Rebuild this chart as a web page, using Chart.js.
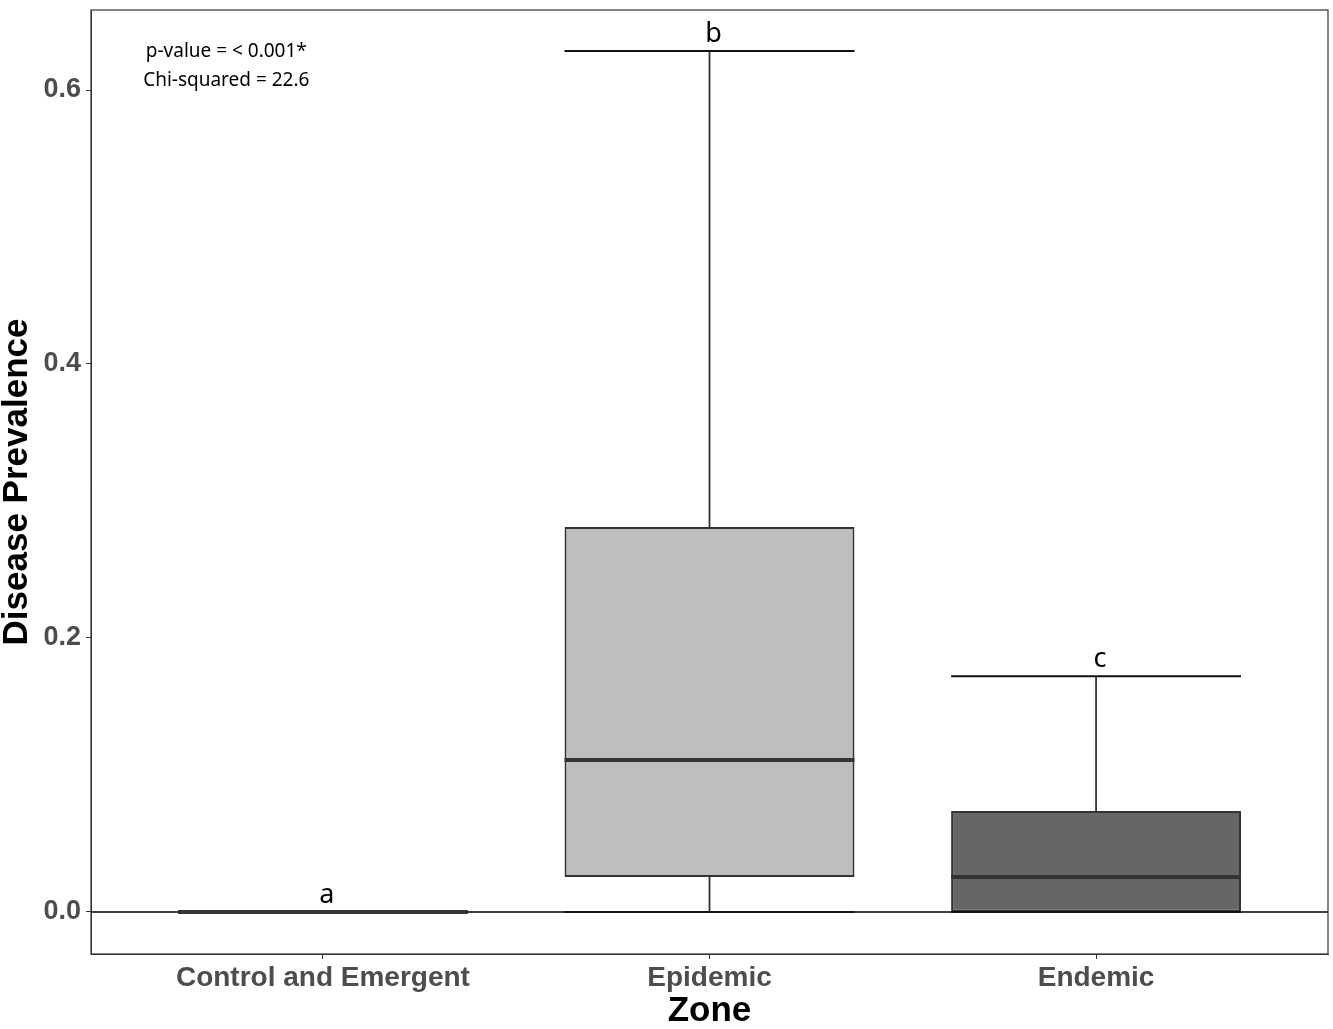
<!DOCTYPE html>
<html>
<head>
<meta charset="utf-8">
<script src="https://cdn.jsdelivr.net/npm/chart.js@4"></script>
<style>
  html, body { margin: 0; padding: 0; background: #fff; }
  #wrap { width: 1333px; height: 1029px; }
</style>
</head>
<body>
<div id="wrap"><canvas id="chart"></canvas></div>
<script>
// box plot summary per zone
const zones = ['Control and Emergent', 'Epidemic', 'Endemic'];
const whiskerLow = [0, 0, 0];
const q1 = [0, 0.0255, 0];
const median = [0, 0.111, 0.0255];
const q3 = [0, 0.281, 0.0737];
const whiskerHigh = [0, 0.6285, 0.172];
const letters = ['a', 'b', 'c'];
const yTicks = [0, 0.2, 0.4, 0.6];
const statLines = ['p-value = < 0.001*', 'Chi-squared = 22.6'];

const fills = ['#ffffff', '#bebebe', '#666666'];
const dark = '#333333';

// whiskers, caps, medians, zero line, letters and frame
const boxExtras = {
  id: 'boxExtras',
  afterDatasetsDraw(chart) {
    const {ctx, chartArea, scales: {x, y}} = chart;
    const half = (x.getPixelForValue(2) - x.getPixelForValue(1)) * 0.75 / 2;
    ctx.save();
    ctx.lineCap = 'butt';

    // horizontal reference line at 0
    ctx.strokeStyle = '#000';
    ctx.lineWidth = 1.6;
    ctx.beginPath();
    ctx.moveTo(chartArea.left, y.getPixelForValue(0));
    ctx.lineTo(chartArea.right, y.getPixelForValue(0));
    ctx.stroke();

    for (let i = 0; i < zones.length; i++) {
      const cx = x.getPixelForValue(i + 1);
      // whiskers
      ctx.strokeStyle = dark;
      ctx.lineWidth = 1.8;
      ctx.beginPath();
      ctx.moveTo(cx, y.getPixelForValue(q3[i]));
      ctx.lineTo(cx, y.getPixelForValue(whiskerHigh[i]));
      ctx.moveTo(cx, y.getPixelForValue(q1[i]));
      ctx.lineTo(cx, y.getPixelForValue(whiskerLow[i]));
      ctx.stroke();
      // caps
      ctx.strokeStyle = '#111';
      ctx.lineWidth = 2;
      ctx.beginPath();
      ctx.moveTo(cx - half, y.getPixelForValue(whiskerHigh[i]));
      ctx.lineTo(cx + half, y.getPixelForValue(whiskerHigh[i]));
      ctx.moveTo(cx - half, y.getPixelForValue(whiskerLow[i]));
      ctx.lineTo(cx + half, y.getPixelForValue(whiskerLow[i]));
      ctx.stroke();
      // median
      ctx.strokeStyle = dark;
      ctx.lineWidth = 4;
      ctx.beginPath();
      ctx.moveTo(cx - half, y.getPixelForValue(median[i]));
      ctx.lineTo(cx + half, y.getPixelForValue(median[i]));
      ctx.stroke();
      // significance letter
      ctx.fillStyle = '#000';
      ctx.font = '27px "Noto Sans"';
      ctx.textAlign = 'center';
      ctx.textBaseline = 'alphabetic';
      ctx.fillText(letters[i], cx + 4, y.getPixelForValue(whiskerHigh[i]) - 9);
    }

    // stats annotation
    ctx.font = '19px "Noto Sans"';
    ctx.fillStyle = '#000';
    ctx.textBaseline = 'middle';
    const ax = x.getPixelForValue(0.75);
    ctx.fillText(statLines[0], ax, y.getPixelForValue(0.628));
    ctx.fillText(statLines[1], ax, y.getPixelForValue(0.607));

    // panel frame
    ctx.strokeStyle = dark;
    ctx.lineWidth = 1.2;
    ctx.strokeRect(chartArea.left, chartArea.top, chartArea.right - chartArea.left, chartArea.bottom - chartArea.top);
    ctx.restore();
  }
};

new Chart(document.getElementById('chart').getContext('2d'), {
  type: 'bar',
  data: {
    datasets: [{
      data: zones.map((z, i) => ({x: i + 1, y: [q1[i], q3[i]]})),
      backgroundColor: fills,
      borderColor: dark,
      borderWidth: 2,
      borderSkipped: false,
      barPercentage: 0.75,
      categoryPercentage: 1,
    }],
  },
  options: {
    responsive: true,
    maintainAspectRatio: false,
    animation: false,
    layout: { padding: { top: 10, right: 5, left: 0, bottom: 0 } },
    plugins: { legend: { display: false }, tooltip: { enabled: false } },
    scales: {
      x: {
        type: 'linear',
        min: 0.4,
        max: 3.6,
        offset: false,
        afterFit: (scale) => { scale.height = 75; scale.paddingLeft = 0; scale.paddingRight = 0; },
        afterBuildTicks: (scale) => { scale.ticks = [1, 2, 3].map(v => ({value: v})); },
        grid: { display: true, drawOnChartArea: false, drawTicks: true, tickLength: 5, color: dark, offset: false },
        border: { display: true, color: dark },
        ticks: {
          autoSkip: false,
          maxRotation: 0,
          padding: 2,
          color: '#4d4d4d',
          font: { family: '"Liberation Sans", Arial, sans-serif', size: 28, weight: 'bold' },
          callback: (v) => zones[v - 1],
        },
        title: {
          display: true,
          text: 'Zone',
          color: '#000',
          padding: { top: 0, bottom: 0 },
          font: { family: '"Liberation Sans", Arial, sans-serif', size: 35, weight: 'bold', lineHeight: 1 },
        },
      },
      y: {
        min: -0.0307,
        max: 0.6584,
        afterFit: (scale) => { scale.width = 91; scale.paddingTop = 0; scale.paddingBottom = 0; },
        afterBuildTicks: (scale) => { scale.ticks = yTicks.map(v => ({value: v})); },
        grid: { display: true, drawOnChartArea: false, drawTicks: true, tickLength: 5, color: dark },
        border: { display: true, color: dark },
        ticks: {
          padding: 5,
          color: '#4d4d4d',
          font: { family: '"Liberation Sans", Arial, sans-serif', size: 27, weight: 'bold' },
          callback: (v) => v.toFixed(1),
        },
        title: {
          display: true,
          text: 'Disease Prevalence',
          color: '#000',
          padding: { top: 0, bottom: 0 },
          font: { family: '"Liberation Sans", Arial, sans-serif', size: 35, weight: 'bold', lineHeight: 1 },
        },
      },
    },
  },
  plugins: [boxExtras],
});
</script>
</body>
</html>
